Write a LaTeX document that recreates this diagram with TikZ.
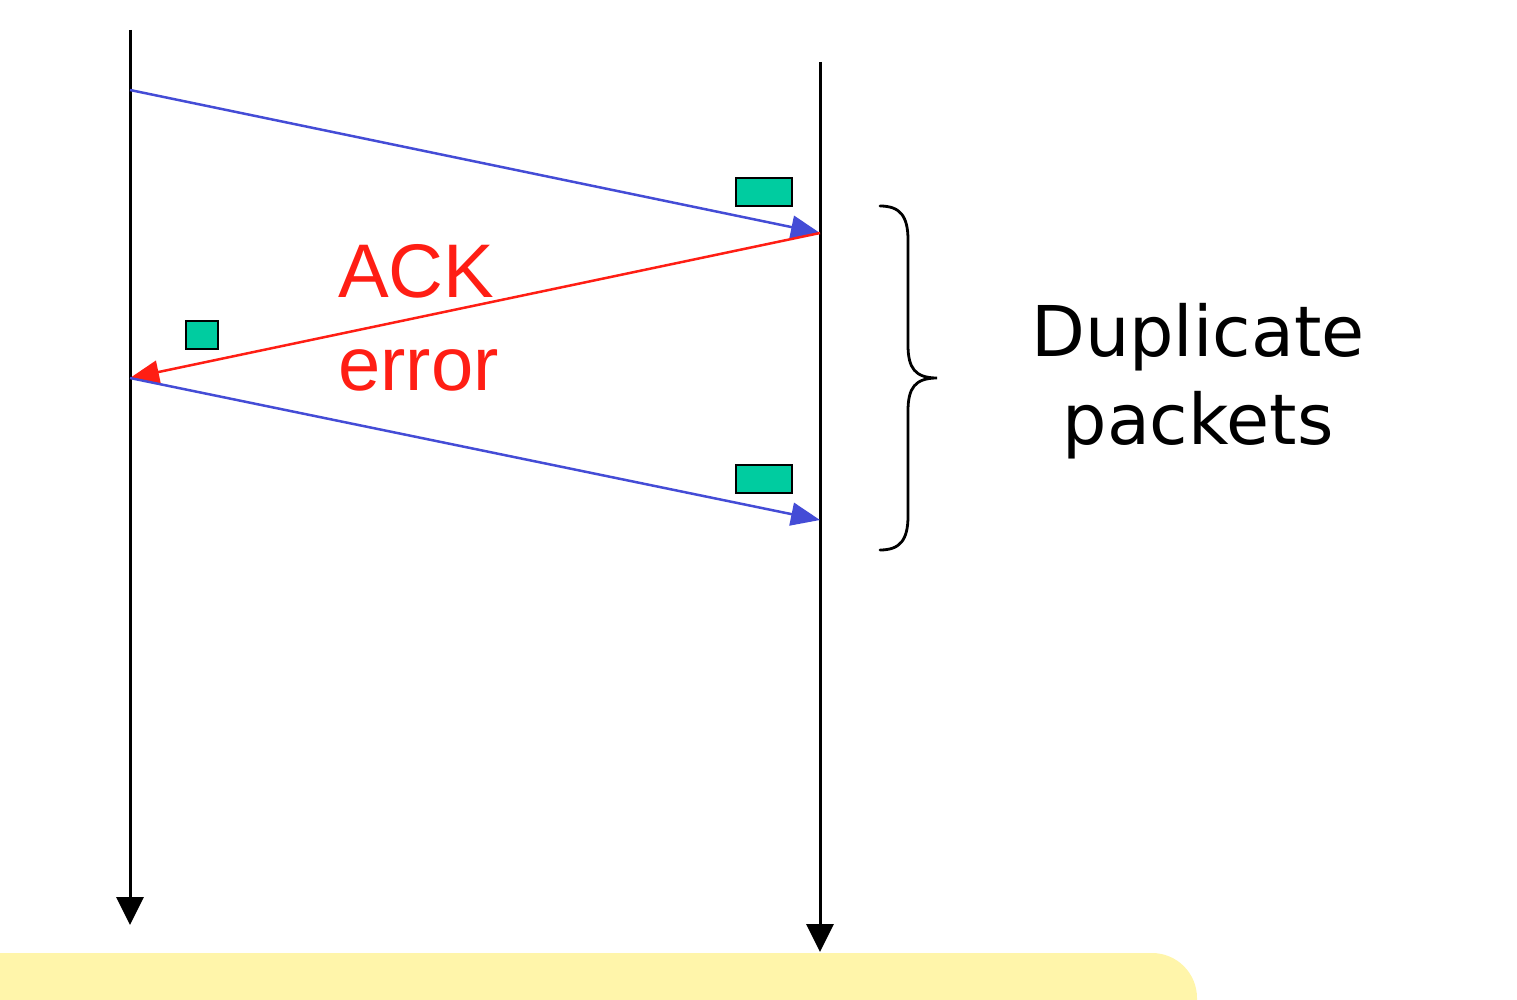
\documentclass[tikz,border=0pt]{standalone}
\usepackage{fontspec}
\setmainfont{Liberation Sans}
\newfontfamily\dupfont{DejaVu Sans}
\usetikzlibrary{arrows.meta}
\definecolor{pktblue}{RGB}{68,76,214}
\definecolor{ackred}{RGB}{255,30,20}
\definecolor{pktgreen}{RGB}{0,204,160}
\definecolor{notey}{RGB}{255,245,170}
\begin{document}
\begin{tikzpicture}[x=1pt,y=-1pt,
  lifeline/.style={draw=black,line width=3pt,-{Triangle[length=28pt,width=27pt]}},
  sendarrow/.style={draw=pktblue,line width=2.5pt,-{Triangle[length=29pt,width=23pt]}},
  ackarrow/.style={draw=ackred,line width=2.5pt,-{Triangle[length=29pt,width=23pt]}},
  pkt/.style={draw=black,line width=2.8pt,fill=pktgreen,inner sep=0pt},
  acklabel/.style={text=ackred,font=\fontsize{76}{80}\selectfont,inner sep=0pt,anchor=base west},
  duplabel/.style={font=\dupfont\fontsize{70}{88}\selectfont,align=center,inner sep=0pt}]
\useasboundingbox (0,0) rectangle (1517,1000);
% note box at bottom
\fill[notey,rounded corners=45pt] (-60,953) rectangle (1197,1060);
% lifelines
\coordinate (s0) at (130,30);
\coordinate (s1) at (130,925);
\coordinate (r0) at (820,62);
\coordinate (r1) at (820,952);
\draw[lifeline] (s0) -- (s1);
\draw[lifeline] (r0) -- (r1);
% events
\coordinate (a) at (130,90);
\coordinate (b) at (820,233);
\coordinate (c) at (130,378);
\coordinate (d) at (820,520);
\draw[sendarrow] (a) -- (b);
\draw[ackarrow] (b) -- (c);
\draw[sendarrow] (c) -- (d);
% packets
\node[pkt,minimum width=56pt,minimum height=28pt] (p1) at (764,192) {};
\node[pkt,minimum width=32pt,minimum height=28pt] (p2) at (202,335) {};
\node[pkt,minimum width=56pt,minimum height=28pt] (p3) at (764,479) {};
% labels
\node[acklabel] (ack) at (338,298) {ACK};
\node[acklabel] (err) at (338,390) {error};
% brace
\draw[line width=2.8pt,line cap=round]
  (880,206) .. controls (900,206) and (908,216) .. (908,240)
  -- (908,345) .. controls (908,368) and (915,378) .. (937,378)
  .. controls (915,378) and (908,388) .. (908,411)
  -- (908,516) .. controls (908,540) and (900,550) .. (880,550);
\node[duplabel] (dup) at (1198,381) {Duplicate\\packets};
\end{tikzpicture}
\end{document}
